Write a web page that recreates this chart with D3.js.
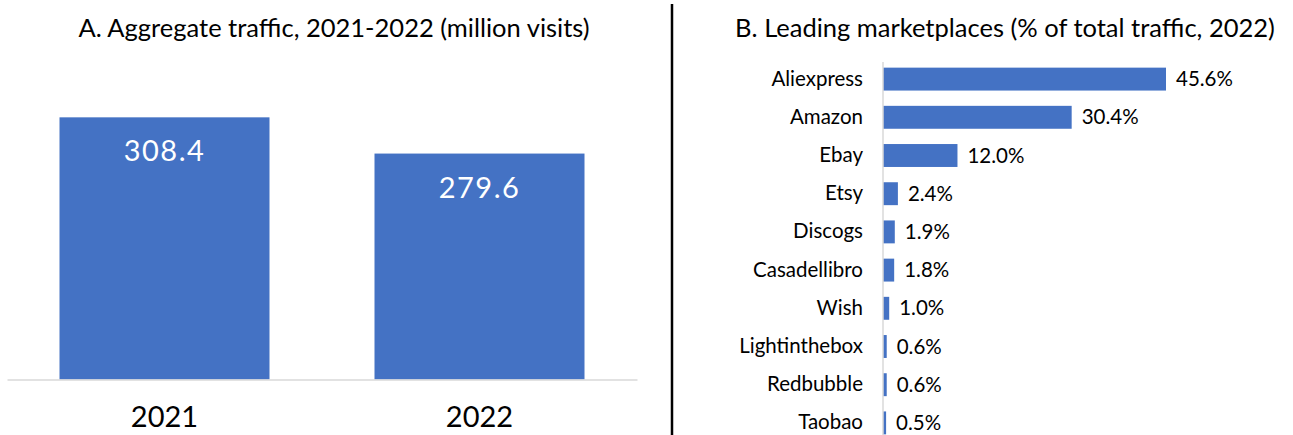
<!DOCTYPE html>
<html>
<head>
<meta charset="utf-8">
<script src="https://cdn.jsdelivr.net/npm/d3@7"></script>
<style>
  body { margin: 0; background: #fff; }
  text { font-family: Lato, "Open Sans", sans-serif; fill: #000; }
</style>
</head>
<body>
<svg id="chart" width="1293" height="435"></svg>
<script>
// panel A data
var years = ["2021", "2022"];
var visits = [308.4, 279.6];

// panel B data
var markets = ["Aliexpress", "Amazon", "Ebay", "Etsy", "Discogs", "Casadellibro",
    "Wish", "Lightinthebox", "Redbubble", "Taobao"];
var shares = [45.6, 30.4, 12.0, 2.4, 1.9, 1.8, 1.0, 0.6, 0.6, 0.5];

var blue = "#4472c4";
var svg = d3.select("#chart");

// ---- panel A ----
var xA = d3.scaleBand().domain(years).range([7, 637])
    .paddingInner(1 / 3).paddingOuter(1 / 6);
var yA = d3.scaleLinear().domain([100, 350]).range([379.5, 65]);

svg.append("text")
    .attr("x", 334).attr("y", 37)
    .attr("text-anchor", "middle")
    .style("font-size", "25.5px")
    .text("A. Aggregate traffic, 2021-2022 (million visits)");

var dataA = years.map(function (y, i) { return { year: y, value: visits[i] }; });

svg.selectAll(".barA")
    .data(dataA).enter().append("rect")
    .attr("class", "barA")
    .attr("x", function (d) { return xA(d.year); })
    .attr("width", xA.bandwidth())
    .attr("y", function (d) { return yA(d.value); })
    .attr("height", function (d) { return yA(100) - yA(d.value); })
    .style("fill", blue);

svg.selectAll(".valA")
    .data(dataA).enter().append("text")
    .attr("class", "valA")
    .attr("x", function (d) { return xA(d.year) + xA.bandwidth() / 2; })
    .attr("y", function (d) { return yA(d.value) + 44; })
    .attr("text-anchor", "middle")
    .style("font-size", "29px")
    .style("letter-spacing", "1.5px")
    .style("fill", "#fff")
    .text(function (d) { return d3.format(".1f")(d.value); });

var axA = svg.append("g")
    .attr("transform", "translate(0," + yA(100) + ")")
    .call(d3.axisBottom(xA).tickSize(0).tickPadding(27));
axA.select(".domain").attr("stroke", "#d9d9d9").attr("stroke-width", 1.5);
axA.selectAll("text").style("font-size", "29px").style("font-family", "Lato, sans-serif");

// divider
svg.append("line")
    .attr("x1", 672).attr("x2", 672).attr("y1", 4).attr("y2", 435)
    .attr("stroke", "#000").attr("stroke-width", 2.5);

// ---- panel B ----
var xB = d3.scaleLinear().domain([0, 45.6]).range([883, 1166]);
var yB = d3.scaleBand().domain(markets).range([60, 442])
    .paddingInner(0.4).paddingOuter(0.2);

svg.append("text")
    .attr("x", 1005).attr("y", 37)
    .attr("text-anchor", "middle")
    .style("font-size", "25.5px")
    .text("B. Leading marketplaces (% of total traffic, 2022)");

var dataB = markets.map(function (m, i) { return { name: m, value: shares[i] }; });

svg.selectAll(".barB")
    .data(dataB).enter().append("rect")
    .attr("class", "barB")
    .attr("x", xB(0))
    .attr("y", function (d) { return yB(d.name); })
    .attr("height", yB.bandwidth())
    .attr("width", function (d) { return xB(d.value) - xB(0); })
    .style("fill", blue);

svg.selectAll(".valB")
    .data(dataB).enter().append("text")
    .attr("class", "valB")
    .attr("x", function (d) { return xB(d.value) + 10; })
    .attr("y", function (d) { return yB(d.name) + yB.bandwidth() / 2; })
    .attr("dy", "0.35em")
    .style("font-size", "20.5px")
    .text(function (d) { return d3.format(".1f")(d.value) + "%"; });

var axB = svg.append("g")
    .attr("transform", "translate(" + xB(0) + ",0)")
    .call(d3.axisLeft(yB).tickSize(0).tickPadding(20));
axB.select(".domain").remove();
axB.selectAll("text").style("font-size", "20.5px").style("font-family", "Lato, sans-serif").attr("fill", "#000");
svg.append("line")
    .attr("x1", xB(0)).attr("x2", xB(0)).attr("y1", 62).attr("y2", 435)
    .attr("stroke", "#d9d9d9").attr("stroke-width", 1.5);
</script>
</body>
</html>
